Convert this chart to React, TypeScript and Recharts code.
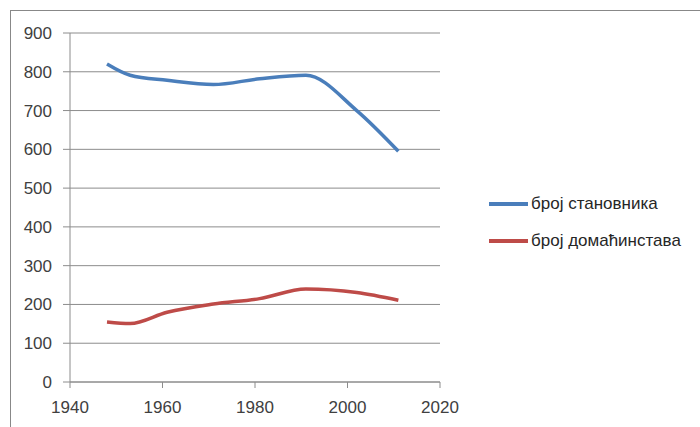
import { LineChart, Line, XAxis, YAxis, CartesianGrid } from 'recharts';

const years = [1948, 1953, 1961, 1971, 1981, 1991, 2002, 2011];
const population = [820, 791, 778, 767, 782, 791, 700, 595];
const households = [155, 151, 180, 201, 215, 240, 231, 211];
const xTicks = [1940, 1960, 1980, 2000, 2020];
const yTicks = [0, 100, 200, 300, 400, 500, 600, 700, 800, 900];

const SERIES = [
  { key: 'population', name: 'број становника', color: '#4a7ebb' },
  { key: 'households', name: 'број домаћинстава', color: '#be4b48' },
];

const data = years.map((year, i) => ({ year, population: population[i], households: households[i] }));

const FONT = '"Liberation Sans", Arial, sans-serif';
const tick = { fontSize: 17, fill: '#404040', fontFamily: FONT };

function LegendBox() {
  return (
    <div style={{ fontFamily: FONT, fontSize: 17, color: '#262626' }}>
      {SERIES.map((s) => (
        <div key={s.key} style={{ display: 'flex', alignItems: 'center', height: 37 }}>
          <div style={{ width: 39, height: 4, background: s.color, marginRight: 3 }} />
          <span>{s.name}</span>
        </div>
      ))}
    </div>
  );
}

export default function App() {
  return (
    <div style={{ position: 'absolute', left: 0, top: 0, width: 700, height: 427, overflow: 'hidden', background: '#fff' }}>
      {/* chart frame */}
      <div style={{ position: 'absolute', left: 10, top: 10, width: 720, height: 450, border: '1px solid #888' }} />
      <div style={{ position: 'absolute', left: 0, top: 0 }}>
        <LineChart width={700} height={427} data={data} margin={{ top: 33, right: 260, left: 0, bottom: 0 }}>
          <CartesianGrid vertical={false} stroke="#8c8c8c" />
          <XAxis
            dataKey="year"
            type="number"
            domain={[1940, 2020]}
            ticks={xTicks}
            height={45}
            tick={tick}
            tickSize={6}
            tickMargin={13}
            stroke="#8c8c8c"
          />
          <YAxis
            domain={[0, 900]}
            ticks={yTicks}
            width={70}
            tick={tick}
            tickSize={7}
            tickMargin={11}
            stroke="#8c8c8c"
          />
          {SERIES.map((s) => (
            <Line
              key={s.key}
              type="monotone"
              dataKey={s.key}
              name={s.name}
              stroke={s.color}
              strokeWidth={3.5}
              dot={false}
              isAnimationActive={false}
            />
          ))}
        </LineChart>
      </div>
      <div style={{ position: 'absolute', left: 489, top: 185 }}>
        <LegendBox />
      </div>
    </div>
  );
}
